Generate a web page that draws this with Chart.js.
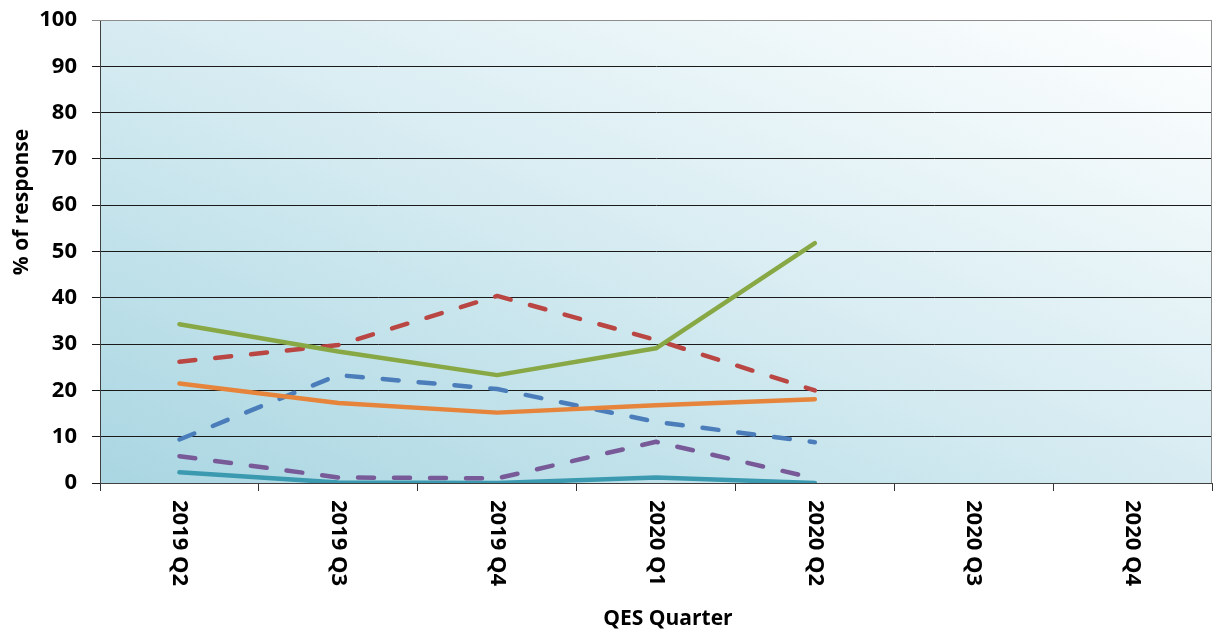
<!DOCTYPE html>
<html>
<head>
<meta charset="utf-8">
<script src="https://cdn.jsdelivr.net/npm/chart.js@4/dist/chart.umd.min.js"></script>
<style>
  html, body { margin: 0; padding: 0; background: #ffffff; }
  #wrap { width: 1213px; height: 633px; position: relative; }
</style>
</head>
<body>
<div id="wrap"><canvas id="qesChart"></canvas></div>
<script>
const quarters = ['2019 Q2', '2019 Q3', '2019 Q4', '2020 Q1', '2020 Q2', '2020 Q3', '2020 Q4'];
const yTicks = [0, 10, 20, 30, 40, 50, 60, 70, 80, 90, 100];

const greenSeries = [34.3, 28.4, 23.3, 29.1, 51.8, null, null];
const redSeries = [26.2, 29.8, 40.4, 30.9, 20.0, null, null];
const orangeSeries = [21.5, 17.3, 15.2, 16.8, 18.1, null, null];
const blueSeries = [9.4, 23.3, 20.3, 13.2, 8.8, null, null];
const purpleSeries = [5.8, 1.2, 1.0, 8.9, 1.0, null, null];
const tealSeries = [2.3, 0.1, 0.0, 1.2, 0.0, null, null];

const FONT = "'Open Sans', 'Liberation Sans', sans-serif";
const DASH = [16, 20];

// plot background, frame and rotated category labels
const quarterDecor = {
    id: 'quarterDecor',
    beforeDraw(chart) {
        const { ctx, chartArea: a } = chart;
        ctx.save();
        ctx.translate(a.left, a.top);
        ctx.scale(a.right - a.left, a.bottom - a.top);
        const g = ctx.createLinearGradient(0, 1, 1, 0);
        g.addColorStop(0, '#a9d6e2');
        g.addColorStop(0.55, '#dbeef3');
        g.addColorStop(1, '#ffffff');
        ctx.fillStyle = g;
        ctx.fillRect(0, 0, 1, 1);
        ctx.restore();
    },
    afterDraw(chart) {
        const { ctx, chartArea: a } = chart;
        const x = chart.scales.x;

        ctx.save();
        ctx.strokeStyle = '#8c8c8c';
        ctx.lineWidth = 1;
        ctx.beginPath();
        ctx.moveTo(a.left, a.top + 0.5);
        ctx.lineTo(a.right - 0.5, a.top + 0.5);
        ctx.lineTo(a.right - 0.5, a.bottom);
        ctx.stroke();

        ctx.fillStyle = '#000000';
        ctx.font = 'bold 22px ' + FONT;
        ctx.textAlign = 'left';
        ctx.textBaseline = 'middle';
        quarters.forEach((q, i) => {
            ctx.save();
            ctx.translate(x.getPixelForValue(i), a.bottom + 17);
            ctx.rotate(Math.PI / 2);
            ctx.fillText(q, 0, 0);
            ctx.restore();
        });

        ctx.font = 'bold 21px ' + FONT;
        ctx.textAlign = 'center';
        ctx.fillText('QES Quarter', 668, 619);

        ctx.save();
        ctx.translate(22, 202);
        ctx.rotate(-Math.PI / 2);
        ctx.fillText('% of response', 0, 0);
        ctx.restore();
        ctx.restore();
    }
};

function line(data, color, dashed) {
    return {
        data: data,
        borderColor: color,
        backgroundColor: color,
        borderWidth: 4.5,
        borderDash: dashed ? DASH : [],
        borderCapStyle: 'round',
        borderJoinStyle: 'round',
        pointRadius: 0,
        tension: 0,
        spanGaps: false
    };
}

const ctx = document.getElementById('qesChart').getContext('2d');
new Chart(ctx, {
    type: 'line',
    data: {
        labels: quarters,
        datasets: [
            line(greenSeries, '#87a845', false),
            line(redSeries, '#b94643', true),
            line(orangeSeries, '#e5843a', false),
            line(blueSeries, '#4a7dba', true),
            line(purpleSeries, '#785a98', true),
            line(tealSeries, '#3b9ab0', false)
        ]
    },
    options: {
        responsive: true,
        maintainAspectRatio: false,
        animation: false,
        layout: {
            padding: { top: 20, right: 1, left: 0, bottom: 0 }
        },
        plugins: {
            legend: { display: false },
            tooltip: { enabled: false }
        },
        scales: {
            x: {
                offset: true,
                afterFit(scale) { scale.height = 150; },
                grid: {
                    offset: true,
                    drawOnChartArea: false,
                    drawTicks: true,
                    tickLength: 8,
                    color: '#333333'
                },
                border: { color: '#404040', width: 1 },
                ticks: { display: false }
            },
            y: {
                min: 0,
                max: 100,
                afterFit(scale) {
                    scale.width = 100;
                    scale.paddingTop = 0;
                    scale.paddingBottom = 0;
                },
                afterBuildTicks(scale) {
                    scale.ticks = yTicks.map(v => ({ value: v }));
                },
                grid: {
                    color: c => (c.tick && c.tick.value === 100 ? '#8c8c8c' : '#1a1a1a'),
                    lineWidth: 1,
                    tickLength: 8
                },
                border: { color: '#404040', width: 1 },
                ticks: {
                    color: '#000000',
                    padding: 15,
                    font: { family: FONT, size: 22, weight: 'bold' }
                }
            }
        }
    },
    plugins: [quarterDecor]
});
</script>
</body>
</html>
